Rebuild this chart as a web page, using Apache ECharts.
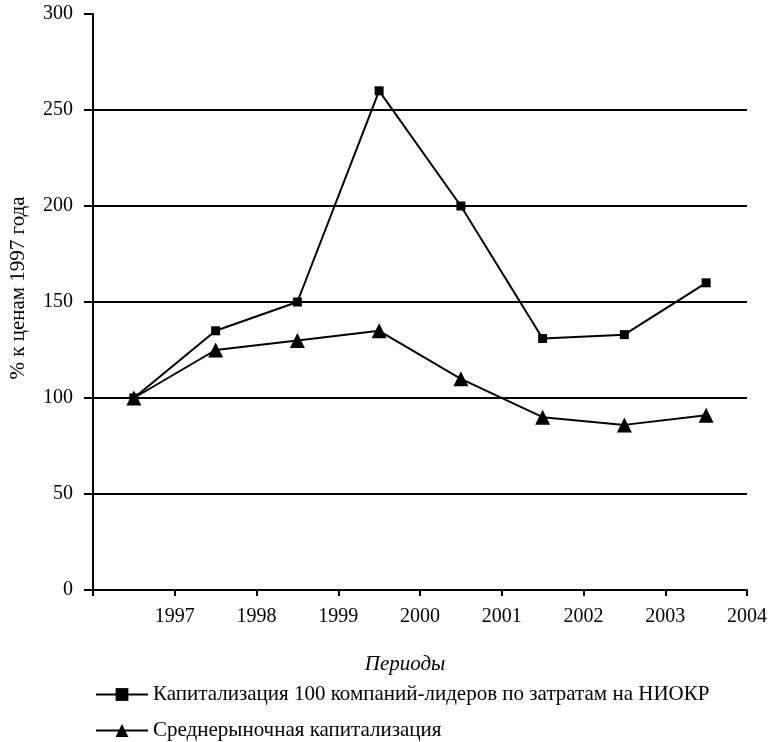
<!DOCTYPE html>
<html>
<head>
<meta charset="utf-8">
<script src="https://cdn.jsdelivr.net/npm/echarts@6/dist/echarts.min.js"></script>
<style>
  html, body { margin: 0; padding: 0; background: #fff; }
  #chart { width: 774px; height: 742px; }
</style>
</head>
<body>
<div id="chart"></div>
<script>
// периоды (середины лет), значения в % к ценам 1997 года
const periods = [1996.5, 1997.5, 1998.5, 1999.5, 2000.5, 2001.5, 2002.5, 2003.5]
const leaders = [100, 135, 150, 260, 200, 131, 133, 160]
const market = [100, 125, 130, 135, 110, 90, 86, 91]
const yearTicks = [1997, 1998, 1999, 2000, 2001, 2002, 2003, 2004]

const nameLeaders = 'Капитализация 100 компаний-лидеров по затратам на НИОКР'
const nameMarket = 'Среднерыночная капитализация'

const font = 'Liberation Serif'
const chart = echarts.init(document.getElementById('chart'))

// две отдельные легенды, одна под другой
const legendStyle = {
  left: 90,
  itemWidth: 52,
  itemHeight: 16,
  textStyle: { fontFamily: font, fontSize: 21, color: '#000' }
}

chart.setOption({
  animation: false,
  textStyle: { fontFamily: font, color: '#000' },
  grid: { left: 90, right: 27, top: 14, bottom: 152 },
  legend: [
    Object.assign({ top: 679, data: [nameLeaders] }, legendStyle),
    Object.assign({ top: 715, data: [nameMarket] }, legendStyle)
  ],
  xAxis: {
    type: 'value',
    min: 1996,
    max: 2004,
    interval: 1,
    name: 'Периоды',
    nameLocation: 'middle',
    nameGap: 64,
    nameTextStyle: { fontFamily: font, fontSize: 21, fontStyle: 'italic', color: '#000', padding: [0, 30, 0, 0] },
    axisLine: { lineStyle: { color: '#000', width: 2 } },
    axisTick: { length: 6, lineStyle: { color: '#000', width: 2 } },
    axisLabel: {
      fontFamily: font, fontSize: 20, color: '#000', margin: 17,
      formatter: v => (yearTicks.indexOf(v) >= 0 ? String(v) : '')
    },
    splitLine: { show: false }
  },
  yAxis: {
    type: 'value',
    min: 0,
    max: 300,
    interval: 50,
    name: '% к ценам 1997 года',
    nameLocation: 'middle',
    nameRotate: 90,
    nameGap: 64,
    nameTextStyle: { fontFamily: font, fontSize: 21, color: '#000', padding: [0, 0, 0, 28] },
    axisLine: { show: true, lineStyle: { color: '#000', width: 2 } },
    axisTick: { show: true, length: 9, lineStyle: { color: '#000', width: 2 } },
    axisLabel: { fontFamily: font, fontSize: 20, color: '#000', margin: 20 },
    splitLine: {
      show: true,
      lineStyle: {
        color: ['transparent', '#000', '#000', '#000', '#000', '#000', 'transparent'],
        width: 2
      }
    }
  },
  series: [
    {
      name: nameLeaders,
      type: 'line',
      data: periods.map((p, i) => [p, leaders[i]]),
      symbol: 'rect',
      symbolSize: 9,
      lineStyle: { color: '#000', width: 2 },
      itemStyle: { color: '#000' }
    },
    {
      name: nameMarket,
      type: 'line',
      data: periods.map((p, i) => [p, market[i]]),
      symbol: 'triangle',
      symbolSize: 15,
      lineStyle: { color: '#000', width: 2 },
      itemStyle: { color: '#000' }
    }
  ]
})
</script>
</body>
</html>
